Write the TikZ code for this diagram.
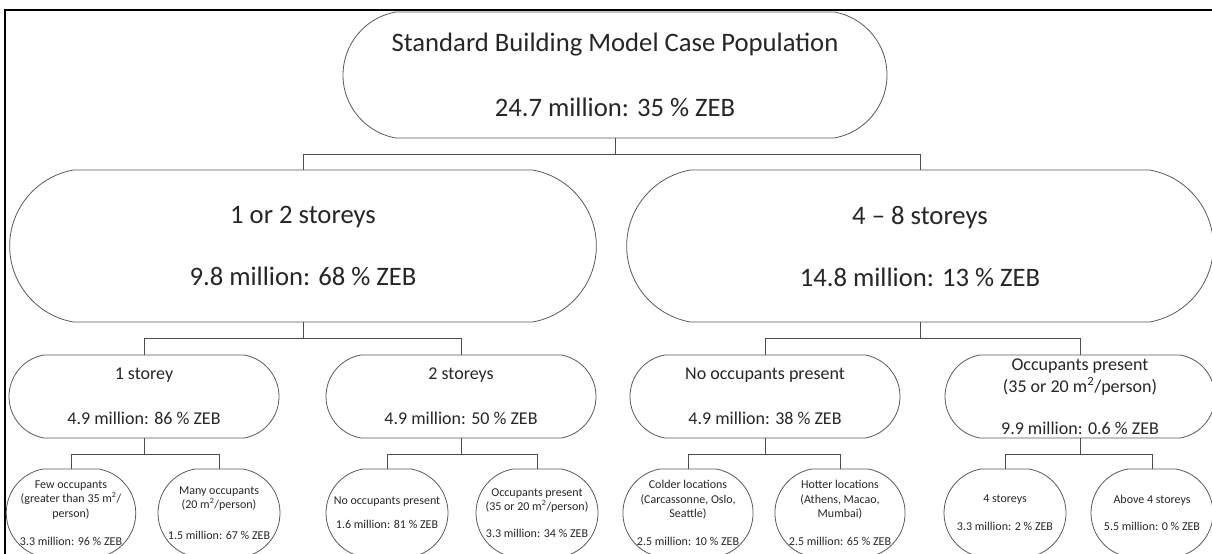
\documentclass[tikz,border=0pt]{standalone}
\usepackage{fontspec}
\setmainfont{Carlito}
\usetikzlibrary{shapes.misc}

\begin{document}
\begin{tikzpicture}[x=0.75pt, y=-0.75pt,
    box/.style={rounded rectangle, rounded rectangle arc length=160, draw=black!65, line width=0.6pt, inner sep=0pt, align=center, text=black!85},
    lvla/.style={box, minimum width=408pt, minimum height=94.5pt, font=\fontsize{20}{24}\selectfont},
    lvlb/.style={box, minimum width=440pt, minimum height=114pt, font=\fontsize{20}{24}\selectfont},
    lvlc/.style={box, minimum width=202.5pt, minimum height=62.25pt, font=\fontsize{13.5}{16.2}\selectfont},
    lvld/.style={box, minimum width=91.5pt, minimum height=66pt, font=\fontsize{9}{10.8}\selectfont},
    link/.style={draw=black!70, line width=0.7pt}]
    \useasboundingbox (0,0) rectangle (1212,553);
    \clip (0,0) rectangle (1212,553);
    \draw[line width=1.5pt] (5,10) rectangle (1240,600);

    % whole population
    \node[lvla] (pop) at (615,75) {Standard Building Model Case Population\\[24.75pt] 24.7 million: 35 \% ZEB};

    % by height
    \node[lvlb] (low) at (303,246) {1 or 2 storeys\\[22.5pt] 9.8 million: 68 \% ZEB};
    \node[lvlb] (mid) at (920,246) {4 -- 8 storeys\\[22.5pt] 14.8 million: 13 \% ZEB};

    \node[lvlc] (one) at (144,396.5) {1 storey\\[17.5pt] 4.9 million: 86 \% ZEB};
    \node[lvlc] (two) at (461,396.5) {2 storeys\\[17.5pt] 4.9 million: 50 \% ZEB};
    \node[lvlc] (empty) at (765,396.5) {No occupants present\\[17.5pt] 4.9 million: 38 \% ZEB};
    \node[lvlc] (occ) at (1080,396.5) {Occupants present\\(35 or 20 m\textsuperscript{2}/person)\\[15.3pt] 9.9 million: 0.6 \% ZEB};

    % leaves
    \node[lvld] (few) at (71,513) {Few occupants\\(greater than 35 m\textsuperscript{2}/\\person)\\[10pt] 3.3 million: 96 \% ZEB};
    \node[lvld] (many) at (219,513) {Many occupants\\(20 m\textsuperscript{2}/person)\\[12pt] 1.5 million: 67 \% ZEB};
    \node[lvld] (none) at (387,513) {No occupants present\\[7pt] 1.6 million: 81 \% ZEB};
    \node[lvld] (some) at (537,513) {Occupants present\\(35 or 20 m\textsuperscript{2}/person)\\[9.5pt] 3.3 million: 34 \% ZEB};
    \node[lvld] (cold) at (688,513) {Colder locations\\(Carcassonne, Oslo,\\Seattle)\\[10pt] 2.5 million: 10 \% ZEB};
    \node[lvld] (hot) at (840,513) {Hotter locations\\(Athens, Macao,\\Mumbai)\\[10pt] 2.5 million: 65 \% ZEB};
    \node[lvld] (four) at (1005,513) {4 storeys\\[10pt] 3.3 million: 2 \% ZEB};
    \node[lvld] (above) at (1152,513) {Above 4 storeys\\[10pt] 5.5 million: 0 \% ZEB};

    % elbow connectors
    \draw[link] (pop.south) -- ++(0,16) coordinate (j0);
    \draw[link] (j0) -| (low.north);
    \draw[link] (j0) -| (mid.north);
    \draw[link] (low.south) -- ++(0,16) coordinate (j1);
    \draw[link] (j1) -| (one.north);
    \draw[link] (j1) -| (two.north);
    \draw[link] (mid.south) -- ++(0,16) coordinate (j2);
    \draw[link] (j2) -| (empty.north);
    \draw[link] (j2) -| (occ.north);
    \draw[link] (one.south) -- ++(0,16) coordinate (j3);
    \draw[link] (j3) -| (few.north);
    \draw[link] (j3) -| (many.north);
    \draw[link] (two.south) -- ++(0,16) coordinate (j4);
    \draw[link] (j4) -| (none.north);
    \draw[link] (j4) -| (some.north);
    \draw[link] (empty.south) -- ++(0,16) coordinate (j5);
    \draw[link] (j5) -| (cold.north);
    \draw[link] (j5) -| (hot.north);
    \draw[link] (occ.south) -- ++(0,16) coordinate (j6);
    \draw[link] (j6) -| (four.north);
    \draw[link] (j6) -| (above.north);
\end{tikzpicture}
\end{document}
